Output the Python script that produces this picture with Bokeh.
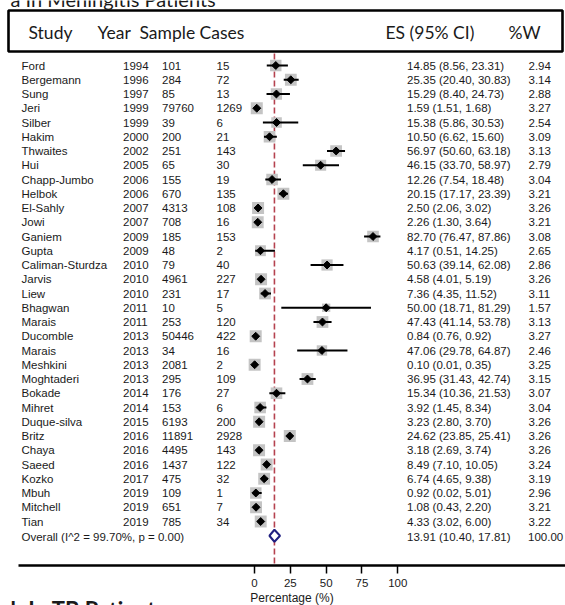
import math
from bokeh.plotting import figure
from bokeh.models import Range1d, LinearAxis, FixedTicker, ColumnDataSource
from bokeh.core.properties import value
from bokeh.embed import file_html
from bokeh.resources import INLINE

# ---------------- data ----------------
studies = ["Ford", "Bergemann", "Sung", "Jeri", "Silber", "Hakim", "Thwaites", "Hui",
           "Chapp-Jumbo", "Helbok", "El-Sahly", "Jowi", "Ganiem", "Gupta", "Caliman-Sturdza",
           "Jarvis", "Liew", "Bhagwan", "Marais", "Ducomble", "Marais", "Meshkini",
           "Moghtaderi", "Bokade", "Mihret", "Duque-silva", "Britz", "Chaya", "Saeed",
           "Kozko", "Mbuh", "Mitchell", "Tian"]
years = [1994, 1996, 1997, 1999, 1999, 2000, 2002, 2005, 2006, 2006, 2007, 2007, 2009, 2009,
         2010, 2010, 2010, 2011, 2011, 2013, 2013, 2013, 2013, 2014, 2014, 2015, 2016, 2016,
         2016, 2017, 2019, 2019, 2019]
samples = [101, 284, 85, 79760, 39, 200, 251, 65, 155, 670, 4313, 708, 185, 48, 79, 4961, 231,
           10, 253, 50446, 34, 2081, 295, 176, 153, 6193, 11891, 4495, 1437, 475, 109, 651, 785]
cases = [15, 72, 13, 1269, 6, 21, 143, 30, 19, 135, 108, 16, 153, 2, 40, 227, 17, 5, 120, 422,
         16, 2, 109, 27, 6, 200, 2928, 143, 122, 32, 1, 7, 34]
es = [14.85, 25.35, 15.29, 1.59, 15.38, 10.50, 56.97, 46.15, 12.26, 20.15, 2.50, 2.26, 82.70,
      4.17, 50.63, 4.58, 7.36, 50.00, 47.43, 0.84, 47.06, 0.10, 36.95, 15.34, 3.92, 3.23,
      24.62, 3.18, 8.49, 6.74, 0.92, 1.08, 4.33]
ci_lo = [8.56, 20.40, 8.40, 1.51, 5.86, 6.62, 50.60, 33.70, 7.54, 17.17, 2.06, 1.30, 76.47,
         0.51, 39.14, 4.01, 4.35, 18.71, 41.14, 0.76, 29.78, 0.01, 31.43, 10.36, 1.45, 2.80,
         23.85, 2.69, 7.10, 4.65, 0.02, 0.43, 3.02]
ci_hi = [23.31, 30.83, 24.73, 1.68, 30.53, 15.60, 63.18, 58.97, 18.48, 23.39, 3.02, 3.64,
         87.86, 14.25, 62.08, 5.19, 11.52, 81.29, 53.78, 0.92, 64.87, 0.35, 42.74, 21.53,
         8.34, 3.70, 25.41, 3.74, 10.05, 9.38, 5.01, 2.20, 6.00]
weights = [2.94, 3.14, 2.88, 3.27, 2.54, 3.09, 3.13, 2.79, 3.04, 3.21, 3.26, 3.21, 3.08, 2.65,
           2.86, 3.26, 3.11, 1.57, 3.13, 3.27, 2.46, 3.25, 3.15, 3.07, 3.04, 3.26, 3.26, 3.26,
           3.24, 3.19, 2.96, 3.21, 3.22]
overall_es = 13.91
overall_lo = 10.40
overall_hi = 17.81
overall_i2 = 99.70
overall_p = 0.00
overall_w = 100.00
x_ticks = [0, 25, 50, 75, 100]
headers = ["Study", "Year", "Sample", "Cases", "ES (95% CI)", "%W"]
panel_titles = ["a  In Meningitis Patients", "b  In TB Patients"]

# ---------------- layout helpers (picture pixels -> data) ----------------
X0_PX = 254             # x of value 0
XS = 1.433              # px per percentage unit
Y0_PX = 65              # y of first row
YS = 14.25              # px per row
W, H = 565, 605


def dx(px):
    return (px - X0_PX) / XS


def dy(py):
    return (py - Y0_PX) / YS


p = figure(width=W, height=H, output_backend="svg", toolbar_location=None,
           x_range=Range1d(dx(0), dx(W)), y_range=Range1d(dy(H), dy(0)),
           x_axis_location=None, y_axis_location=None, min_border=0,
           outline_line_color=None, background_fill_color="white")
p.grid.visible = False

n = len(studies)
rows = list(range(n))
overall_row = n

FONT = value("Liberation Sans")
TXT = "#1a1a1a"
FS = "11.5px"

# reference line at overall estimate
axis_row = dy(565)
p.segment(x0=[overall_es], y0=[dy(53)], x1=[overall_es], y1=[axis_row],
          line_color="#b5424f", line_width=1.6, line_dash="6 3")

# weight squares
sizes = [12.0 * math.sqrt(w / 3.27) for w in weights]
src = ColumnDataSource(dict(es=es, lo=ci_lo, hi=ci_hi, y=rows, size=sizes))
p.scatter(x="es", y="y", size="size", marker="square", source=src,
          fill_color="#c4c4c4", line_color=None)
# CI lines
p.segment(x0="lo", y0="y", x1="hi", y1="y", source=src, line_color="black", line_width=2)
# point estimates
p.scatter(x="es", y="y", size=5.6, marker="square", angle=math.pi / 4, source=src,
          fill_color="black", line_color="black")

# overall diamond
hh = 0.42
p.patch(x=[overall_lo, overall_es, overall_hi, overall_es],
        y=[overall_row, overall_row - hh, overall_row, overall_row + hh],
        fill_color="white", line_color="#1f1f80", line_width=2)

# header box
p.quad(left=[dx(8)], right=[dx(562)], top=[dy(10)], bottom=[dy(51)],
       fill_color=None, line_color="black", line_width=2.6)
hdr_x = [28, 97, 139, 199, 385, 508]
p.text(x=[dx(v) for v in hdr_x], y=[dy(32)] * len(headers), text=headers,
       text_font=value("Lato"), text_font_size="17.5px", text_baseline="middle",
       text_color=TXT)

# panel titles, cut off by the picture edges as in the reference
p.text(x=[dx(10)], y=[dy(-2)], text=[panel_titles[0]], text_font=value("Lato"),
       text_font_size="20px", text_baseline="alphabetic", text_color=TXT)
p.text(x=[dx(10)], y=[dy(595)], text=[panel_titles[1]], text_font=value("Lato"),
       text_font_size="22px", text_font_style="bold", text_baseline="top",
       text_color=TXT)

# table text
es_txt = ["%.2f (%.2f, %.2f)" % (a, b, c) for a, b, c in zip(es, ci_lo, ci_hi)]
w_txt = ["%.2f" % w for w in weights]
cols = [(21, studies), (122.5, [str(v) for v in years]), (161.5, [str(v) for v in samples]),
        (216, [str(v) for v in cases]), (406.5, es_txt), (528, w_txt)]
for px, texts in cols:
    p.text(x=[dx(px)] * n, y=rows, text=texts, text_font=FONT, text_font_size=FS,
           text_baseline="middle", text_color=TXT)

overall_txt = "Overall  (I^2 = %.2f%%, p = %.2f)" % (overall_i2, overall_p)
p.text(x=[dx(21), dx(406.5), dx(527.5)], y=[overall_row + 0.1] * 3,
       text=[overall_txt, "%.2f (%.2f, %.2f)" % (overall_es, overall_lo, overall_hi),
             "%.2f" % overall_w],
       text_font=FONT, text_font_size=FS, text_baseline="middle", text_color=TXT)

# x axis
ax = LinearAxis(ticker=FixedTicker(ticks=x_ticks), fixed_location=axis_row,
                bounds=(dx(18), dx(W)))
ax.axis_line_width = 2.6
ax.axis_line_color = "black"
ax.major_tick_in = 0
ax.major_tick_out = 8
ax.major_tick_line_width = 1.5
ax.minor_tick_line_color = None
ax.major_label_text_font = "Liberation Sans"
ax.major_label_text_font_size = "11.5px"
ax.major_label_text_color = TXT
ax.major_label_standoff = 5
ax.axis_label = "Percentage (%)"
ax.axis_label_text_font = "Liberation Sans"
ax.axis_label_text_font_style = "normal"
ax.axis_label_text_font_size = "12px"
ax.axis_label_text_color = TXT
ax.axis_label_standoff = 1
p.add_layout(ax, "below")

open("out.html", "w").write(file_html(p, INLINE))
